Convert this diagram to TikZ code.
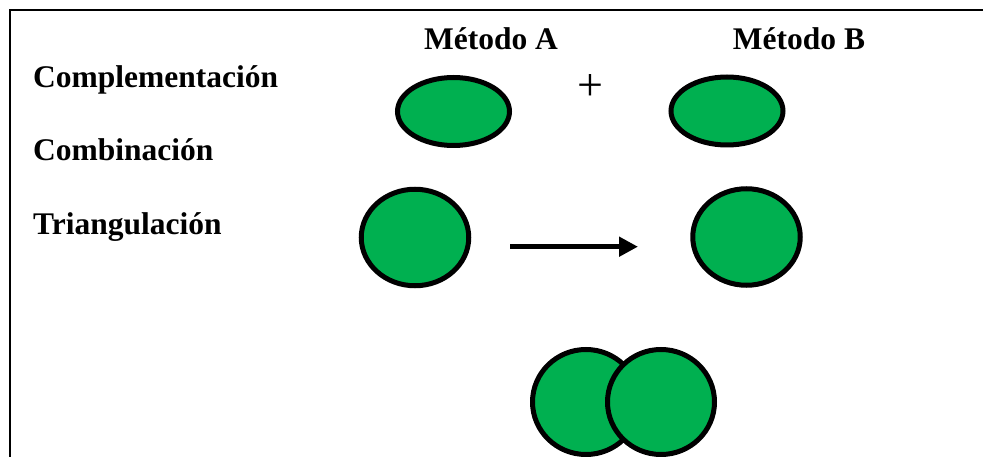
\documentclass[tikz,border=0pt]{standalone}
\usepackage{fontspec}
\setmainfont{Liberation Serif}
\usepackage{tikz}
\usetikzlibrary{arrows.meta,shapes.geometric}
\usetikzlibrary{positioning}
\definecolor{verde}{RGB}{0,176,80}
\tikzset{
    metodo/.style={ellipse, draw=black, fill=verde, line width=5pt, inner sep=0pt},
    oval/.style={metodo, minimum width=112pt, minimum height=68pt},
    redondo/.style={metodo, minimum width=107.5pt, minimum height=96.5pt},
    rotulo/.style={font=\bfseries\fontsize{31.5}{37}\selectfont, inner sep=0pt},
    flecha/.style={-{Triangle[length=19pt,width=19pt]}, line width=5.5pt},
}

\begin{document}
\begin{tikzpicture}[x=1pt,y=-1pt]
	\useasboundingbox (0,0) rectangle (983,457);
	% marco
	\draw[line width=2.7pt] (983,10) -- (10,10) -- (10,457);
	% encabezados
	\node[rotulo, anchor=base] (metA) at (491,50) {Método A};
	\node[rotulo, anchor=base] (metB) at (799,50) {Método B};
	\node[rotulo, anchor=base west] (compl) at (33,88) {Complementación};
	\node[rotulo, anchor=base west] (comb) at (33,161) {Combinación};
	\node[rotulo, anchor=base west] (triang) at (33,235) {Triangulación};
	% complementacion
	\node[oval] (oA) at (453.5,111.5) {};
	\node[oval] (oB) at (727,111) {};
	\node[inner sep=0pt, font=\fontsize{46}{50}\selectfont] (mas) at (590,88) {+};
	% triangulacion
	\node[redondo] (tA) at (415,237.5) {};
	\node[redondo] (tB) at (746.5,237) {};
	\coordinate (ini) at (510,246.7);
	\coordinate (fin) at (638,246.7);
	\draw[flecha] (ini) -- (fin);
	% combinacion
	\node[metodo, minimum width=107pt, minimum height=105pt] (cA) at (586,402) {};
	\node[metodo, minimum width=107pt, minimum height=105pt] (cB) at (661,402) {};
\end{tikzpicture}
\end{document}
